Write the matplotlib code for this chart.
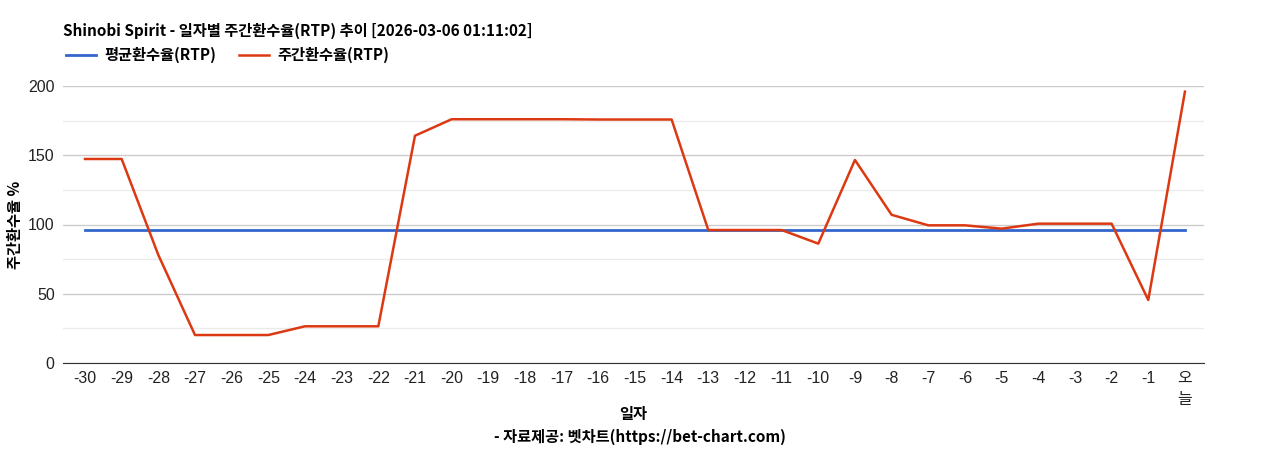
import numpy as np
import matplotlib
matplotlib.use("Agg")
import matplotlib.pyplot as plt

plt.rcParams['font.family'] = ['Noto Sans CJK KR', 'DejaVu Sans']

# x categories: days before today
days = ['-30', '-29', '-28', '-27', '-26', '-25', '-24', '-23', '-22', '-21',
        '-20', '-19', '-18', '-17', '-16', '-15', '-14', '-13', '-12', '-11',
        '-10', '-9', '-8', '-7', '-6', '-5', '-4', '-3', '-2', '-1', '오\n늘']

# weekly RTP values
weekly_rtp = [147.3, 147.3, 78.0, 20.2, 20.2, 20.2, 26.5, 26.5, 26.5, 164.1,
              176.0, 176.0, 176.0, 176.0, 175.8, 175.8, 175.8, 96.0, 96.0, 96.0,
              86.2, 146.6, 107.0, 99.4, 99.4, 97.0, 100.6, 100.6, 100.6, 45.5,
              195.9]
avg_rtp = 96.0

title = 'Shinobi Spirit - 일자별 주간환수율(RTP) 추이 [2026-03-06 01:11:02]'
blue = '#3366cc'
red = '#dc3912'

fig = plt.figure(figsize=(12.68, 4.5), dpi=100)
ax = fig.add_axes([63 / 1268, 1 - 363 / 450, (1204 - 63) / 1268, (363 - 86) / 450])

x = np.arange(len(days))
l1, = ax.plot(x, [avg_rtp] * len(days), color=blue, lw=2, label='평균환수율(RTP)')
l2, = ax.plot(x, weekly_rtp, color=red, lw=1.8, label='주간환수율(RTP)')

ax.set_xlim(-0.6, len(days) - 1 + 0.52)
ax.set_ylim(0, 200)
ax.set_yticks([0, 50, 100, 150, 200])
ax.set_yticks([25, 75, 125, 175], minor=True)
ax.grid(axis='y', which='major', color='#cccccc', lw=1)
ax.grid(axis='y', which='minor', color='#ebebeb', lw=1)
ax.set_axisbelow(True)
ax.set_xticks(x)
ax.set_xticklabels(days)
for s in ['left', 'right', 'top']:
    ax.spines[s].set_visible(False)
ax.spines['bottom'].set_color('#333333')
ax.tick_params(axis='both', which='both', length=0, labelsize=11.5, colors='#222222')
ax.tick_params(axis='x', pad=6)
ax.tick_params(axis='y', pad=6)
for lab in ax.get_xticklabels() + ax.get_yticklabels():
    lab.set_family(['Liberation Sans', 'Noto Sans CJK KR'])
for lab in ax.get_xticklabels():
    lab.set_linespacing(1.5)
    lab.set_verticalalignment('top')

ax.set_ylabel('주간환수율 %', fontsize=11, fontweight='bold')
ax.yaxis.set_label_coords(-40 / 1141, 0.5)
fig.text(633 / 1268, 1 - 414 / 450, '일자', ha='center', va='center',
         fontsize=11, fontweight='bold')
fig.text(640 / 1268, 1 - 437 / 450, '- 자료제공: 벳차트(https://bet-chart.com)',
         ha='center', va='center', fontsize=11, fontweight='bold')
fig.text(63 / 1268, 1 - 31 / 450, title, ha='left', va='center',
         fontsize=11, fontweight='bold')

fig.legend(handles=[l1, l2], loc='center left', bbox_to_anchor=(52 / 1268, 1 - 55 / 450),
           ncol=2, frameon=False, handlelength=2.0, handletextpad=0.5,
           columnspacing=1.5, prop={'size': 11, 'weight': 'bold'})

fig.savefig('out.png', dpi=100, facecolor='white')
